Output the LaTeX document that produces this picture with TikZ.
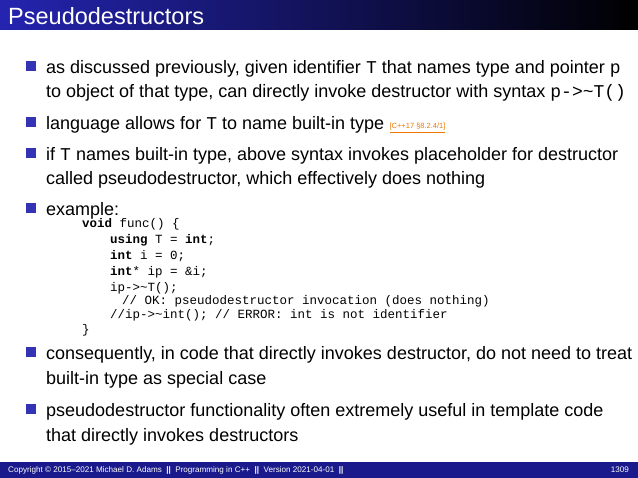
\documentclass[tikz,border=0pt]{standalone}
\usepackage{fontspec}
\setmainfont{Liberation Sans}
\setmonofont{Liberation Mono}
\usetikzlibrary{calc}
\definecolor{bbl}{HTML}{3333B3}
\definecolor{tleft}{HTML}{2424B0}
\definecolor{foot}{HTML}{1A1A8C}
\definecolor{cite}{HTML}{F07800}
\begin{document}
\begin{tikzpicture}[x=1pt,y=-1pt,
  txt/.style={anchor=base west,inner sep=0pt,font=\fontsize{18}{20}\selectfont},
  code/.style={anchor=base west,inner sep=0pt,font=\fontsize{12.5}{14}\ttfamily},
  bul/.style={fill=bbl,minimum size=9.5pt,inner sep=0pt}]
\useasboundingbox (0,0) rectangle (638,478);
\fill[white] (0,0) rectangle (638,478);
\shade[left color=tleft,right color=black] (0,0) rectangle (638,30);
\node[anchor=base west,inner sep=0pt,text=white,font=\fontsize{23.5}{26}\selectfont] (title) at (8,25) {Pseudodestructors};
% bullets
\foreach \n/\y in {b1/66,b2/122,b3/153,b4/208,b5/352,b6/409}{\node[bul] (\n) at (31,\y) {};}
\node[txt] (t1) at (46,74) {as discussed previously, given identifier \texttt{T} that names type and pointer \texttt{p}};
\node[txt] (t1b) at (46,98) {to object of that type, can directly invoke destructor with syntax \texttt{p->\string~T()}};
\node[txt] (t2) at (46,130) {language allows for \texttt{T} to name built-in type};
\node[anchor=base west,inner sep=0pt,text=cite,font=\fontsize{7.5}{8}\selectfont] (c2) at ($(t2.base east)+(5,-1)$) {\underline{[C++17 §8.2.4/1]}};
\node[txt] (t3) at (46,161) {if \texttt{T} names built-in type, above syntax invokes placeholder for destructor};
\node[txt] (t3b) at (46,185) {called pseudodestructor, which effectively does nothing};
\node[txt] (t4) at (46,216) {example:};
\node[code] (l1) at (82,228) {\textbf{void} func() \{};
\node[code] (l2) at (110,244) {\textbf{using} T = \textbf{int};};
\node[code] (l3) at (110,260) {\textbf{int} i = 0;};
\node[code] (l4) at (110,276) {\textbf{int}* ip = \&i;};
\node[code] (l5) at (110,292) {ip->\string~T();};
\node[code] (l6) at (122,305) {// OK: pseudodestructor invocation (does nothing)};
\node[code] (l7) at (110,319) {//ip->\string~int(); // ERROR: int is not identifier};
\node[code] (l8) at (82,334) {\}};
\node[txt] (t5) at (46,360) {consequently, in code that directly invokes destructor, do not need to treat};
\node[txt] (t5b) at (46,385) {built-in type as special case};
\node[txt] (t6) at (46,417) {pseudodestructor functionality often extremely useful in template code};
\node[txt] (t6b) at (46,442) {that directly invokes destructors};
% footer
\fill[foot] (0,462) rectangle (638,478);
\node[anchor=base west,inner sep=0pt,text=white,font=\fontsize{8.1}{10}\selectfont] (f1) at (8,473)
  {Copyright © 2015–2021 Michael D. Adams \ \textbf{||}\ \ Programming in C++ \ \textbf{||}\ \ Version 2021-04-01 \ \textbf{||}};
\node[anchor=base east,inner sep=0pt,text=white,font=\fontsize{8.1}{10}\selectfont] (f2) at (629,473) {1309};
\end{tikzpicture}
\end{document}
